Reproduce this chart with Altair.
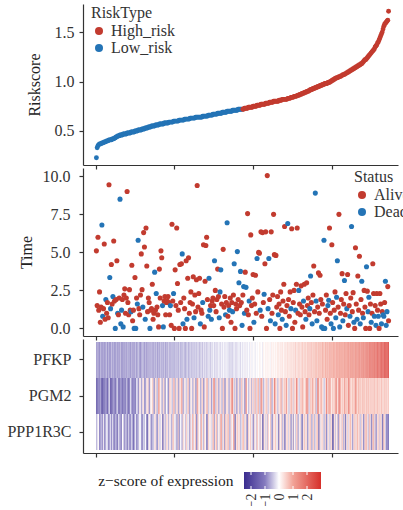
import altair as alt
import pandas as pd

# ---------------- data ----------------
RISK = [
    0.23,0.33,0.35,0.36,0.37,0.37,0.37,0.38,0.38,0.38,
    0.39,0.39,0.39,0.40,0.40,0.40,0.41,0.41,0.41,0.41,
    0.42,0.42,0.42,0.43,0.43,0.44,0.44,0.45,0.45,0.45,
    0.46,0.46,0.46,0.46,0.47,0.47,0.47,0.47,0.47,0.48,
    0.48,0.48,0.48,0.48,0.49,0.49,0.49,0.49,0.49,0.50,
    0.50,0.50,0.50,0.51,0.51,0.51,0.51,0.51,0.52,0.52,
    0.52,0.52,0.53,0.53,0.53,0.53,0.54,0.54,0.54,0.54,
    0.55,0.55,0.55,0.55,0.55,0.56,0.56,0.56,0.56,0.56,
    0.57,0.57,0.57,0.57,0.57,0.57,0.58,0.58,0.58,0.58,
    0.58,0.58,0.59,0.59,0.59,0.59,0.59,0.59,0.60,0.60,
    0.60,0.60,0.60,0.60,0.60,0.61,0.61,0.61,0.61,0.61,
    0.61,0.61,0.62,0.62,0.62,0.62,0.62,0.62,0.62,0.63,
    0.63,0.63,0.63,0.63,0.63,0.63,0.64,0.64,0.64,0.64,
    0.64,0.64,0.64,0.64,0.64,0.65,0.65,0.65,0.65,0.65,
    0.65,0.65,0.66,0.66,0.66,0.66,0.66,0.66,0.67,0.67,
    0.67,0.67,0.67,0.67,0.68,0.68,0.68,0.68,0.68,0.68,
    0.69,0.69,0.69,0.69,0.69,0.69,0.70,0.70,0.70,0.70,
    0.70,0.70,0.70,0.71,0.71,0.71,0.71,0.71,0.71,0.71,
    0.72,0.72,0.72,0.72,0.72,0.72,0.72,0.72,0.73,0.73,
    0.73,0.73,0.73,0.74,0.74,0.74,0.74,0.74,0.74,0.75,
    0.75,0.75,0.75,0.75,0.76,0.76,0.76,0.76,0.76,0.77,
    0.77,0.77,0.77,0.77,0.77,0.78,0.78,0.78,0.78,0.78,
    0.79,0.79,0.79,0.79,0.79,0.80,0.80,0.80,0.80,0.80,
    0.80,0.80,0.81,0.81,0.81,0.81,0.82,0.82,0.82,0.82,
    0.82,0.82,0.82,0.83,0.83,0.83,0.83,0.84,0.84,0.84,
    0.84,0.85,0.85,0.85,0.85,0.86,0.86,0.86,0.87,0.87,
    0.87,0.88,0.88,0.88,0.89,0.89,0.89,0.90,0.90,0.90,
    0.91,0.91,0.92,0.92,0.92,0.93,0.93,0.93,0.94,0.94,
    0.94,0.95,0.95,0.95,0.96,0.96,0.96,0.97,0.97,0.97,
    0.98,0.98,0.98,0.98,0.99,0.99,0.99,1.00,1.00,1.01,
    1.01,1.02,1.02,1.03,1.03,1.04,1.04,1.04,1.05,1.05,
    1.05,1.06,1.06,1.07,1.07,1.07,1.08,1.08,1.09,1.09,
    1.10,1.10,1.11,1.11,1.12,1.12,1.13,1.13,1.14,1.14,
    1.15,1.15,1.16,1.16,1.17,1.17,1.18,1.18,1.19,1.20,
    1.21,1.22,1.22,1.23,1.24,1.25,1.26,1.27,1.28,1.29,
    1.30,1.31,1.32,1.33,1.35,1.36,1.37,1.39,1.40,1.42,
    1.44,1.46,1.48,1.50,1.53,1.56,1.58,1.59,1.60,1.61,1.62,1.71,
]
N_LOW = 186  # first N_LOW samples are Low_risk

TIME = [
    5.1,1.5,6.0,1.2,2.4,0.4,1.4,6.8,0.8,1.3,
    5.55,0.6,1.9,1.0,1.7,0.7,9.45,3.35,1.3,4.2,
    1.6,2.1,5.75,1.8,0.0,1.9,4.45,1.0,0.9,2.0,
    8.5,0.3,1.2,1.9,0.1,2.2,2.6,1.0,2.0,9.0,
    1.7,0.9,2.55,1.2,1.1,4.15,0.5,1.2,0.0,3.35,
    0.0,2.0,1.6,5.8,1.3,0.9,2.2,4.9,2.55,1.4,
    6.3,5.35,0.6,6.6,4.1,1.1,2.0,1.7,0.0,1.2,
    1.3,2.9,0.6,1.0,3.7,1.2,2.3,1.4,0.9,0.1,
    3.9,2.0,5.1,4.65,1.5,0.1,1.8,2.1,0.9,1.7,
    1.8,2.1,1.7,0.9,1.5,0.2,6.85,1.8,2.3,0.0,
    3.85,1.5,6.6,2.95,1.2,0.0,4.2,1.7,4.25,4.9,
    0.3,2.0,1.3,0.0,4.45,0.6,3.3,4.65,1.0,1.7,
    2.4,0.0,1.6,3.4,0.7,2.2,1.1,3.2,9.4,1.4,
    2.3,3.3,0.3,1.2,1.0,1.7,5.5,0.1,3.1,5.45,
    6.0,1.9,0.8,3.3,1.2,1.5,0.6,1.8,2.0,1.5,
    4.45,2.5,1.1,1.9,3.9,2.1,0.7,2.4,3.85,1.6,
    0.0,5.2,1.4,2.1,0.9,1.7,6.95,0.8,1.5,1.2,
    2.0,0.4,1.7,1.1,2.2,4.25,0.0,1.6,1.3,5.05,
    1.9,3.0,1.5,3.75,1.7,0.2,2.2,2.75,1.0,3.7,
    2.7,1.2,7.55,0.9,1.8,0.0,6.15,1.5,2.0,3.55,
    0.4,1.6,3.5,1.0,4.6,2.4,5.0,4.95,1.2,6.35,
    0.8,6.3,1.7,2.25,4.25,6.35,0.0,10.05,1.3,4.6,
    1.9,0.5,6.35,1.0,2.2,7.5,4.85,0.3,4.8,1.4,
    2.1,0.9,1.6,0.0,2.4,1.2,0.6,1.8,2.9,6.7,
    1.1,0.2,1.5,6.9,1.9,0.8,2.4,1.3,6.55,0.0,
    1.7,2.5,0.4,1.2,2.9,6.6,1.0,2.5,1.6,0.9,
    2.8,1.4,0.1,1.8,2.9,1.1,0.6,3.0,1.5,2.0,
    0.9,1.3,3.45,1.7,0.3,2.2,4.1,1.1,8.9,1.8,
    0.5,1.4,3.65,1.0,3.5,1.9,0.1,1.6,0.0,5.8,
    0.0,1.2,2.2,0.6,1.5,1.85,6.6,1.0,0.3,5.5,
    1.7,0.0,1.2,2.4,0.7,2.05,4.45,1.4,7.5,0.1,
    1.0,1.9,3.6,0.5,1.6,3.15,0.9,2.3,1.3,3.55,
    0.2,1.5,0.8,2.0,6.7,1.1,2.35,0.4,0.0,5.3,
    1.6,0.6,3.45,1.2,4.75,0.3,1.9,3.1,1.0,0.7,
    2.5,1.4,0.0,4.05,2.45,1.1,2.05,0.0,1.6,0.4,
    1.0,4.25,2.3,0.8,1.5,0.2,2.3,1.2,0.8,0.0,
    2.3,1.6,0.3,1.1,0.9,0.8,1.7,3.1,0.2,1.1,
    2.75,0.5,
]

DEAD = [
    0,0,0,0,0,0,0,1,1,0, 0,0,1,0,0,0,0,1,1,0, 0,1,0,0,1,0,0,1,0,0,
    1,1,1,0,1,0,0,0,0,0, 0,0,0,0,1,0,0,0,1,0, 1,0,1,1,0,0,0,0,0,1,
    0,0,1,0,0,0,0,0,1,0, 0,0,0,0,1,0,1,0,0,0, 0,0,0,0,1,1,0,0,0,0,
    0,0,0,0,1,0,0,0,1,0, 0,0,0,0,0,0,0,0,0,1, 1,0,0,0,0,1,0,0,0,0,
    0,0,0,0,1,0,0,0,0,0, 0,0,1,0,0,1,0,0,0,0, 0,0,1,1,1,0,1,0,0,0,
    1,0,0,0,0,0,1,1,1,0, 0,0,0,0,1,0,1,0,0,1, 0,0,0,1,0,1,0,0,0,1,
    0,1,0,1,0,1,0,1,1,0, 1,0,0,0,1,0,0,0,0,0, 1,0,0,0,1,0,0,0,1,0,
    0,0,0,1,0,0,0,0,1,1, 0,1,0,0,0,0,0,1,0,0, 0,1,0,0,0,0,1,0,0,0,
    0,1,0,1,0,0,0,1,0,0, 0,0,0,1,0,0,0,1,0,0, 0,0,0,1,0,0,1,0,0,0,
    0,1,1,0,1,0,0,0,1,1, 1,0,0,0,0,0,1,0,1,1, 1,0,0,0,1,1,0,0,1,0,
    0,1,0,0,1,1,1,0,0,1, 0,0,0,1,0,1,0,0,1,0, 0,0,1,0,1,0,0,1,0,0,
    0,1,0,0,0,1,0,1,0,1, 0,0,0,1,0,1,1,0,0,1, 0,0,0,1,0,1,0,0,1,0,
    0,0,1,0,1,1,0,1,1,1, 0,0,
]

PFKP = [
    -0.8,-1.0,-0.7,-0.9,-1.1,-0.6,-0.8,-1.0,-0.9,-0.7,-1.2,-0.8,
    -0.9,-0.6,-1.0,-0.8,-0.7,-1.1,-0.9,-0.5,-0.8,-1.0,-0.7,-0.9,
    -0.8,-1.1,-0.6,-0.9,-0.7,-1.0,-0.8,-0.6,-0.9,-0.8,-1.2,-0.7,
    -0.9,-0.7,-0.8,-1.0,-0.6,-0.8,-0.7,-0.9,-1.1,-0.6,-0.8,-0.7,
    -1.0,-0.8,-0.6,-0.9,-0.7,-0.8,-0.5,-0.9,-1.0,-0.7,-0.8,-0.6,
    -0.7,-0.9,-0.8,-0.6,-1.0,-0.7,-0.8,-0.5,-0.9,-0.7,-0.6,-0.8,
    -0.7,-0.9,-0.6,-0.8,-0.5,-0.7,-1.0,-0.6,-0.8,-0.7,-0.5,-0.8,
    -0.6,-0.8,-0.7,-0.5,-0.9,-0.6,-0.7,-0.8,-0.4,-0.7,-0.6,-0.8,
    -0.5,-0.7,-0.6,-0.8,-0.4,-0.7,-0.6,-0.5,-0.8,-0.6,-0.4,-0.7,
    -0.6,-0.5,-0.7,-0.4,-0.6,-0.8,-0.5,-0.6,-0.4,-0.7,-0.5,-0.6,
    -0.4,-0.6,-0.5,-0.3,-0.7,-0.5,-0.4,-0.6,-0.3,-0.5,-0.4,-0.6,
    -0.5,-0.3,-0.4,-0.6,-0.2,-0.5,-0.4,-0.3,-0.5,-0.4,-0.2,-0.4,
    -0.3,-0.5,-0.2,-0.4,-0.3,-0.1,-0.4,-0.3,-0.2,-0.4,-0.3,-0.1,
    -0.3,-0.2,-0.4,-0.1,-0.3,-0.2,0.0,-0.3,-0.2,-0.1,-0.3,-0.2,
    -0.3,-0.4,-0.2,-0.5,-0.3,-0.4,-0.2,-0.3,-0.1,-0.4,-0.3,-0.2,
    -0.3,-0.1,-0.2,-0.4,0.0,-0.2,-0.3,-0.1,-0.2,0.1,-0.3,-0.1,
    -0.2,0.0,-0.1,-0.3,0.1,-0.1,-0.2,0.0,0.1,-0.1,-0.2,0.0,
    0.1,-0.1,0.0,0.2,-0.1,0.1,0.0,-0.2,0.2,0.1,0.0,0.2,
    0.1,0.3,0.0,0.2,0.1,-0.1,0.2,0.3,0.1,0.2,0.0,0.3,
    0.2,0.1,0.3,0.2,0.4,0.1,0.3,0.2,0.4,0.3,0.1,0.3,
    0.3,0.4,0.2,0.5,0.3,0.4,0.2,0.5,0.4,0.3,0.5,0.4,
    0.4,0.6,0.3,0.5,0.4,0.6,0.5,0.3,0.6,0.5,0.7,0.4,
    0.6,0.5,0.7,0.4,0.6,0.8,0.5,0.7,0.6,0.8,0.5,0.7,
    0.7,0.6,0.8,0.7,0.9,0.6,0.8,0.7,0.9,0.8,0.7,1.0,
    0.8,0.9,0.7,1.0,0.8,0.9,1.1,0.8,1.0,0.9,1.1,1.0,
    0.9,1.1,1.0,1.2,0.9,1.1,1.0,1.2,1.1,1.3,1.0,1.2,
    1.1,1.3,1.0,1.2,1.4,1.1,1.3,1.2,1.4,1.1,1.3,1.5,
    1.2,1.4,1.3,1.5,1.2,1.4,1.6,1.3,1.5,1.4,1.6,1.3,
    1.5,1.7,1.4,1.6,1.8,1.5,1.7,1.6,1.9,1.7,1.8,2.0,
    1.8,2.0,1.9,2.1,1.8,2.0,2.2,1.9,2.1,2.3,2.0,2.2,
    2.1,2.3,2.4,2.2,2.5,2.3,2.6,2.4,2.5,2.7,2.6,2.8,
]

PGM2 = [
    -1.8,-1.9,-1.7,-1.2,-1.3,-0.6,-2.0,-2.1,-2.2,-1.4,-1.5,-1.6,
    -1.0,-1.1,-1.8,-1.9,-0.4,-0.5,-2.0,-1.9,-1.5,-1.6,-0.9,-1.0,
    -1.7,-1.8,-0.6,-0.5,-1.4,-1.5,-1.9,-0.9,-1.0,-1.6,-1.7,-1.1,
    -1.3,-1.4,-0.7,-0.6,-1.8,-1.7,-1.5,-0.4,-0.3,-1.2,-1.3,-1.1,
    -0.9,-1.6,-1.5,-0.3,-0.2,-1.2,-1.1,0.3,0.2,-0.8,-0.9,0.3,
    0.4,-0.9,-1.0,-0.8,0.3,0.4,0.5,-1.1,-1.0,0.2,0.1,0.6,
    0.7,-0.8,-0.9,0.4,0.5,-0.7,-0.6,1.2,1.1,0.2,0.3,-0.6,
    -0.7,0.5,0.6,-0.9,-0.8,0.1,0.0,-1.2,-1.1,0.6,0.5,0.3,
    -0.5,-0.6,0.8,0.9,-0.6,-0.7,0.4,0.5,-0.9,-0.8,0.5,0.4,
    1.0,1.1,-0.7,-0.8,0.3,0.2,-0.6,-0.5,0.6,0.7,-0.9,-0.8,
    0.2,0.3,-0.6,-0.7,0.5,0.4,-0.8,-0.7,1.4,1.3,0.3,0.2,
    -0.7,-0.8,0.5,0.6,-0.9,-0.8,0.4,0.3,0.8,0.9,-0.5,-0.6,
    0.3,0.4,-0.9,-0.8,0.2,1.6,1.5,-0.5,-0.6,0.6,0.5,-0.7,
    -0.8,0.4,0.5,-0.5,-0.6,0.7,0.8,-0.9,-0.8,0.4,0.3,0.5,
    -0.6,-0.7,0.6,0.5,1.8,1.7,0.4,-0.5,-0.6,0.5,-0.8,-0.7,
    0.5,0.4,-0.7,-0.6,0.7,0.8,-0.4,0.3,-0.8,-0.9,1.5,1.4,
    0.1,-0.6,-0.5,0.3,0.4,-0.7,0.6,0.5,-0.5,0.7,0.8,-0.6,
    0.4,0.8,0.9,-0.5,-0.4,1.7,1.6,0.6,-0.7,-0.6,0.2,0.5,
    0.7,0.6,-0.4,-0.5,0.3,0.9,1.0,-0.7,-0.6,0.3,1.9,1.8,
    0.5,0.4,-0.5,-0.4,0.6,0.3,0.8,0.9,-0.6,0.5,0.4,0.7,
    0.3,1.6,1.5,0.2,-0.4,-0.5,0.4,0.8,0.9,0.5,-0.5,0.7,
    0.6,0.4,1.8,1.7,0.5,-0.3,-0.4,0.7,0.4,0.9,1.0,0.6,
    0.2,0.5,0.8,1.5,1.4,1.0,-0.5,-0.4,0.7,0.3,1.2,1.3,
    0.6,0.3,1.1,-0.5,-0.6,1.7,1.6,0.7,0.2,1.0,0.9,0.4,
    0.5,-0.4,-0.5,0.4,1.8,1.9,0.3,1.1,1.0,1.4,0.6,0.2,
    0.7,0.4,0.9,0.5,1.6,1.5,0.3,0.8,1.9,1.8,1.1,0.4,
    0.6,0.8,0.5,1.3,1.2,0.4,0.9,0.6,1.7,1.6,1.0,0.6,
    0.4,0.7,0.9,0.5,0.8,1.5,1.4,0.7,0.5,0.9,0.6,0.8,
    0.7,0.5,0.8,0.6,0.9,0.7,0.5,0.8,0.6,0.7,0.9,0.5,
    0.6,0.8,0.5,0.7,0.6,0.9,0.4,0.7,0.6,0.8,0.5,0.7,
    0.6,0.5,0.8,0.7,0.4,0.6,0.7,0.5,0.8,0.6,0.5,0.7,
]

PPP1R3C = [
    -0.6,-0.7,0.0,0.1,-1.2,-1.3,-0.4,-0.9,-1.0,0.1,-1.1,-1.2,
    -0.7,-0.2,-0.1,-1.3,-1.4,-0.8,-0.3,-1.0,-1.1,0.0,-1.2,-1.3,
    -0.9,-0.5,-1.4,-1.5,-0.2,-0.8,-0.7,-1.1,-1.2,0.0,0.1,-0.8,
    -1.1,-0.6,-0.5,-1.4,-1.5,-0.4,-0.9,-1.2,-1.1,-0.3,-0.8,-1.7,
    -1.6,-0.5,-0.2,-1.1,-1.0,-0.6,-0.7,0.1,0.0,-0.8,-1.3,-1.2,
    -0.4,-0.7,-0.1,0.0,-1.8,-1.7,-0.5,0.2,0.3,-0.6,-1.0,-0.9,
    -0.3,-0.7,0.3,0.4,-0.5,-1.1,-1.0,0.4,-0.2,-0.8,0.1,0.2,
    -1.4,-1.3,0.5,-0.4,-0.6,0.5,0.6,-0.1,-0.9,0.3,0.2,-0.5,
    -1.0,0.6,0.7,-0.2,0.2,-0.4,-0.8,-0.7,0.8,-0.9,-1.0,0.0,
    -0.3,-1.2,0.4,0.5,-0.1,-0.6,0.7,0.6,-0.3,0.2,-0.8,-0.9,
    0.5,-0.2,0.9,0.8,-0.5,0.1,0.8,-1.0,-1.1,0.6,0.5,0.0,
    -0.5,1.1,1.0,-0.2,-0.7,0.5,0.6,0.0,-1.3,-1.2,0.6,0.7,
    -0.1,0.3,-0.3,-0.4,0.8,0.9,-0.9,0.1,1.0,0.9,-0.6,0.2,
    0.3,-0.4,1.2,1.1,-0.5,0.4,0.5,-1.1,0.7,0.6,-0.2,0.9,
    0.8,-0.6,-0.7,0.4,0.5,-0.1,1.1,1.0,-1.5,-1.4,0.3,0.7,
    0.6,-0.2,0.5,-0.6,-0.5,0.2,0.9,0.8,-0.4,0.3,0.6,-0.9,
    -1.0,0.6,0.5,0.0,0.8,-0.2,0.3,-1.2,-1.1,0.4,0.1,-0.6,
    0.8,0.7,-0.1,0.4,-0.8,0.5,0.2,-1.6,-1.5,0.6,0.3,-0.4,
    0.3,-0.8,0.5,0.6,0.0,0.8,-0.3,-1.1,-1.0,0.4,0.1,0.8,
    0.7,-0.2,0.2,-1.3,-1.4,0.5,0.2,0.6,-0.6,-0.7,0.4,-1.2,
    -1.1,0.2,0.6,0.5,-0.4,0.3,0.7,-0.9,-0.8,0.2,-2.0,0.4,
    0.1,-0.5,0.6,0.7,-0.8,-0.7,0.2,0.5,-0.4,-1.4,-1.3,0.3,
    0.7,0.8,-0.2,0.5,-0.9,-0.8,0.3,0.6,0.7,-0.5,-1.1,0.4,
    0.7,-0.6,-0.5,0.3,0.8,0.7,-1.0,-1.5,0.6,-0.3,0.4,0.5,
    0.4,-0.7,-0.6,0.6,-1.2,-1.1,0.2,0.5,-0.4,-0.5,0.6,0.5,
    -2.0,-1.9,0.3,0.6,-0.6,0.2,0.5,-1.0,-0.9,0.7,0.3,-0.3,
    0.8,0.7,-0.7,0.4,-1.6,-1.5,0.2,0.6,-0.4,0.2,0.8,0.9,
    0.3,-0.9,-0.8,0.5,0.7,0.6,-0.2,0.9,1.0,0.4,0.6,-0.6,
    -0.5,0.7,0.3,-1.1,-1.0,0.6,0.8,0.9,-0.3,0.5,-0.7,0.8,
    0.3,-1.3,-1.2,0.7,0.9,-0.4,0.6,-1.0,-0.9,0.4,0.5,0.8,
    -0.5,0.6,0.3,-1.7,-1.6,0.7,0.5,-0.2,-1.4,-1.3,-1.2,-1.5,
]

GENES = ["PFKP", "PGM2", "PPP1R3C"]
RISK_TYPES = ["High_risk", "Low_risk"]
STATUS = ["Alive", "Dead"]
X_TICKS = [0, 100, 200, 300]
RISK_TICKS = [0.5, 1.0, 1.5]
TIME_TICKS = [0, 2.5, 5, 7.5, 10]
Z_STOPS = [-2.5, -1.0, 0.0, 1.0, 3.0]          # colour-scale stops
Z_COLORS = ["#3A2C8F", "#857BBF", "#FFFFFF", "#F2A397", "#D62F2A"]
Z_TICKS = [-2, -1, 0, 1, 2]

# ---------------- tables ----------------
n = len(RISK)
idx = list(range(1, n + 1))
risk_df = pd.DataFrame({
    "idx": idx, "risk": RISK,
    "type": ["Low_risk" if i <= N_LOW else "High_risk" for i in idx],
})
time_df = pd.DataFrame({
    "idx": idx, "time": TIME,
    "status": ["Dead" if d else "Alive" for d in DEAD],
})
rows = []
for g, vals in zip(GENES, [PFKP, PGM2, PPP1R3C]):
    for i, v in zip(idx, vals):
        rows.append({"idx": i, "gene": g, "z": v})
heat_df = pd.DataFrame(rows)
bar_df = pd.DataFrame({"lo": [Z_STOPS[0]], "hi": [Z_STOPS[-1]]})
tick_df = pd.DataFrame({"v": Z_TICKS})

# ---------------- style ----------------
RED = "#C23B2F"
BLUE = "#2474B6"
FONT = "Liberation Serif"
TXT = "#333333"
W = 315
XDOM = [-16, 384]


def xscale():
    return alt.Scale(domain=XDOM, nice=False, zero=False)


def xaxis():
    return alt.Axis(values=X_TICKS, labels=False, title=None, tickSize=4, grid=False)


def legend(title, lx):
    return alt.Legend(
        title=title, orient="none", legendX=lx, legendY=1, padding=0,
        symbolType="circle", symbolSize=64, symbolStrokeWidth=0,
        titleFontSize=16, labelFontSize=16, titleFont=FONT, labelFont=FONT,
        titleFontWeight="normal", titleColor=TXT, labelColor=TXT,
        titlePadding=2, rowPadding=1, labelOffset=4,
    )


p1 = alt.Chart(risk_df).mark_circle(size=24, opacity=1).encode(
    x=alt.X("idx:Q", scale=xscale(), axis=xaxis()),
    y=alt.Y("risk:Q", scale=alt.Scale(domain=[0.156, 1.784], nice=False, zero=False),
            axis=alt.Axis(values=RISK_TICKS, format=".1f", title="Riskscore",
                          titleX=-49, titleBaseline="middle", labelPadding=5, tickSize=4)),
    color=alt.Color("type:N", scale=alt.Scale(domain=RISK_TYPES, range=[RED, BLUE]),
                    legend=legend("RiskType", 8)),
).properties(width=W, height=161)

p2 = alt.Chart(time_df).mark_circle(size=26, opacity=1).encode(
    x=alt.X("idx:Q", scale=xscale(), axis=xaxis()),
    y=alt.Y("time:Q", scale=alt.Scale(domain=[-0.5, 10.55], nice=False, zero=False),
            axis=alt.Axis(values=TIME_TICKS, format=".1f", title="Time",
                          titleX=-57, titleBaseline="middle", labelPadding=9, tickSize=4)),
    color=alt.Color("status:N", scale=alt.Scale(domain=STATUS, range=[RED, BLUE]),
                    legend=legend("Status", 271)),
).properties(width=W, height=168)

p3 = alt.Chart(heat_df).transform_calculate(
    x0="datum.idx - 0.5", x1="datum.idx + 0.5"
).mark_rect().encode(
    x=alt.X("x0:Q", scale=xscale(), axis=xaxis()),
    x2="x1:Q",
    y=alt.Y("gene:N", sort=GENES,
            scale=alt.Scale(paddingInner=0, paddingOuter=0.083),
            axis=alt.Axis(title=None, labelPadding=8, tickSize=4)),
    color=alt.Color("z:Q", scale=alt.Scale(domain=Z_STOPS, range=Z_COLORS,
                                           interpolate="rgb"), legend=None),
).properties(width=W, height=114)

# colour-bar legend for the heatmap (drawn as its own small panel)
span = Z_STOPS[-1] - Z_STOPS[0]
grad = alt.Gradient(
    gradient="linear",
    stops=[alt.GradientStop(color=c, offset=(s - Z_STOPS[0]) / span)
           for s, c in zip(Z_STOPS, Z_COLORS)],
    x1=0, x2=1, y1=0, y2=0,
)
LH = 33  # panel height; bar occupies its lower 17 px
lscale = alt.Scale(domain=[-14.0, 8.5], nice=False, zero=False)
bar = alt.Chart(bar_df).mark_rect(color=grad).encode(
    x=alt.X("lo:Q", scale=lscale,
            axis=alt.Axis(values=Z_TICKS, labelAngle=270, domain=False, ticks=False,
                          labelPadding=4, grid=False, labelOverlap=False,
                          labelFontSize=14,
                          title="z\u2212score of expression", titleAngle=0,
                          titleAlign="right", titleBaseline="middle",
                          titleX=150, titleY=-8.5, titleFontSize=15.5)),
    x2="hi:Q",
    y=alt.value(LH - 17), y2=alt.value(LH),
)
ticks_top = alt.Chart(tick_df).mark_rule(color="white", strokeWidth=1).encode(
    x=alt.X("v:Q", scale=lscale), y=alt.value(LH - 17), y2=alt.value(LH - 14))
ticks_bot = alt.Chart(tick_df).mark_rule(color="white", strokeWidth=1).encode(
    x=alt.X("v:Q", scale=lscale), y=alt.value(LH - 3), y2=alt.value(LH))
p4 = alt.layer(bar, ticks_top, ticks_bot).properties(width=W, height=LH)

chart = alt.vconcat(p1, p2, p3, p4, spacing=3, bounds="flush").resolve_scale(
    color="independent", x="independent"
).properties(
    padding={"left": 6, "top": 4, "right": -7, "bottom": -2}
).configure(font=FONT).configure_axis(
    labelFont=FONT, titleFont=FONT, labelFontSize=16, titleFontSize=16,
    labelColor=TXT, titleColor="#222222", titleFontWeight="normal",
    domainColor="#333333", domainWidth=1.2, tickColor="#333333", tickWidth=1.2,
    grid=False,
).configure_view(stroke=None)

chart.save("out.html", embed_options={"renderer": "svg", "actions": False})
